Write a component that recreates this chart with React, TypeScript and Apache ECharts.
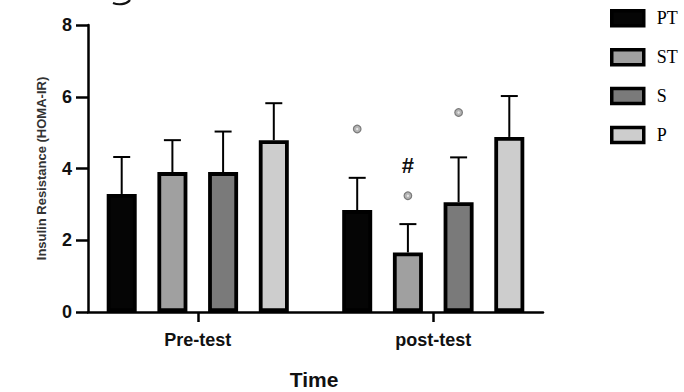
import React, { useEffect, useRef } from "react";
import * as echarts from "echarts";

const categories = ["Pre-test", "post-test"];
const seriesNames = ["PT", "ST", "S", "P"];
const PT = [3.29, 2.84];
const PT_ERR = [1.03, 0.9];
const ST = [3.9, 1.66];
const ST_ERR = [0.89, 0.79];
const S = [3.9, 3.06];
const S_ERR = [1.13, 1.25];
const P = [4.79, 4.88];
const P_ERR = [1.03, 1.14];
const yTicks = [0, 2, 4, 6, 8];
// significance markers: [categoryIndex, value, seriesIndex, kind(0 = dot, 1 = '#')]
const markers = [
  [1, 5.1, 0, 0],
  [1, 3.24, 1, 0],
  [1, 4.07, 1, 1],
  [1, 5.56, 2, 0],
];

const fills = ["#050505", "#a0a0a0", "#7a7a7a", "#cdcdcd"];
const BAR_W = 30;
const PITCH = 50.7;

export default function App() {
  const ref = useRef<HTMLDivElement>(null);
  useEffect(() => {
    if (!ref.current) return;
    const chart = echarts.init(ref.current, null, { renderer: "svg" });
    const values = [PT, ST, S, P];
    const errs = [PT_ERR, ST_ERR, S_ERR, P_ERR];

    const barSeries = seriesNames.map((name, i) => ({
      name,
      type: "bar",
      xAxisIndex: 1,
      yAxisIndex: 1,
      barWidth: BAR_W,
      barGap: "69%",
      data: values[i],
      itemStyle: { color: fills[i], borderColor: "#000", borderWidth: 3.8 },
      z: 3,
    }));

    const errSeries = seriesNames.map((name, i) => ({
      name: name + "_err",
      type: "custom",
      xAxisIndex: 1,
      yAxisIndex: 1,
      z: 2,
      data: values[i].map((v, c) => [c, v, errs[i][c]]),
      renderItem: (params: any, api: any) => {
        const base = api.coord([api.value(0), api.value(1)]);
        const top = api.coord([api.value(0), api.value(1) + api.value(2)]);
        const x = base[0] + (i - 1.5) * PITCH;
        const st = { stroke: "#000", lineWidth: 2 };
        return {
          type: "group",
          children: [
            { type: "line", shape: { x1: x, y1: base[1], x2: x, y2: top[1] }, style: st },
            { type: "line", shape: { x1: x - 8.5, y1: top[1], x2: x + 8.5, y2: top[1] }, style: st },
          ],
        };
      },
    }));

    const markerSeries = {
      name: "markers",
      type: "custom",
      xAxisIndex: 1,
      yAxisIndex: 1,
      z: 4,
      data: markers,
      renderItem: (params: any, api: any) => {
        const p = api.coord([api.value(0), api.value(1)]);
        const x = p[0] + (api.value(2) - 1.5) * PITCH;
        if (api.value(3) === 1) {
          return {
            type: "text",
            x,
            y: p[1],
            style: {
              text: "#",
              font: "bold 22px 'Liberation Sans', Arial",
              fill: "#111",
              align: "center",
              verticalAlign: "middle",
            },
          };
        }
        return {
          type: "group",
          children: [
            {
              type: "circle",
              shape: { cx: x, cy: p[1], r: 3.8 },
              style: { fill: "#b4b4b4", stroke: "#7a7a7a", lineWidth: 1.2 },
            },
            {
              type: "circle",
              shape: { cx: x, cy: p[1], r: 1.2 },
              style: { fill: "#e6e6e6" },
            },
          ],
        };
      },
    };

    chart.setOption({
      animation: false,
      backgroundColor: "#fff",
      grid: [
        { left: 88, right: 141, top: 25, bottom: 80 },
        { left: 80, right: 133, top: 25, bottom: 80 },
      ],
      legend: {
        data: seriesNames.map((n, i) => ({
          name: n,
          itemStyle: { color: fills[i], borderColor: "#000", borderWidth: 3.5 },
        })),
        orient: "vertical",
        left: 605,
        top: 4,
        icon: "rect",
        itemWidth: 32,
        itemHeight: 15,
        itemGap: 20.4,
        textStyle: {
          fontFamily: "'Liberation Serif', 'Times New Roman', serif",
          fontSize: 18,
          color: "#000",
          lineHeight: 16,
          padding: [0, 0, 0, 8],
        },
      },
      xAxis: [
        {
          type: "value",
          gridIndex: 0,
          min: 0,
          max: 1,
          axisLine: { show: true, lineStyle: { color: "#000", width: 2.5 } },
          axisTick: { show: false },
          axisLabel: { show: false },
          splitLine: { show: false },
        },
        {
          type: "category",
          gridIndex: 1,
          data: categories,
          axisLine: { show: false },
          axisTick: { show: true, alignWithLabel: true, length: 10, lineStyle: { color: "#000", width: 2.5 } },
          axisLabel: {
            margin: 19,
            fontFamily: "'Liberation Sans', Arial, sans-serif",
            fontWeight: "bold",
            fontSize: 18,
            color: "#111",
          },
          splitLine: { show: false },
        },
      ],
      yAxis: [
        {
          type: "value",
          gridIndex: 0,
          min: yTicks[0],
          max: yTicks[yTicks.length - 1],
          interval: 2,
          name: "Insulin Resistance (HOMA-IR)",
          nameLocation: "middle",
          nameGap: 40,
          nameTextStyle: {
            fontFamily: "'Liberation Sans', Arial, sans-serif",
            fontWeight: "bold",
            fontSize: 13,
            color: "#333",
          },
          axisLine: { show: true, lineStyle: { color: "#000", width: 2.5 } },
          axisTick: { show: true, length: 12, lineStyle: { color: "#000", width: 2.5 } },
          axisLabel: {
            margin: 16,
            fontFamily: "'Liberation Sans', Arial, sans-serif",
            fontWeight: "bold",
            fontSize: 18,
            color: "#111",
          },
          splitLine: { show: false },
        },
        {
          type: "value",
          gridIndex: 1,
          min: 0,
          max: 8,
          show: false,
          splitLine: { show: false },
        },
      ],
      graphic: [
        {
          type: "text",
          x: 314,
          y: 379,
          style: {
            text: "Time",
            font: "bold 21px 'Liberation Sans', Arial, sans-serif",
            fill: "#111",
            align: "center",
            verticalAlign: "middle",
          },
        },
        {
          type: "bezierCurve",
          shape: { x1: 113, y1: 3, cpx1: 118, cpy1: 5, cpx2: 126, cpy2: 5, x2: 130, y2: 0 },
          style: { stroke: "#111", lineWidth: 2.2, fill: null },
        },
      ],
      series: [...barSeries, ...errSeries, markerSeries],
    });
    return () => chart.dispose();
  }, []);
  return (
    <div
      ref={ref}
      style={{ position: "absolute", left: 0, top: 0, width: 684, height: 392 }}
    />
  );
}
